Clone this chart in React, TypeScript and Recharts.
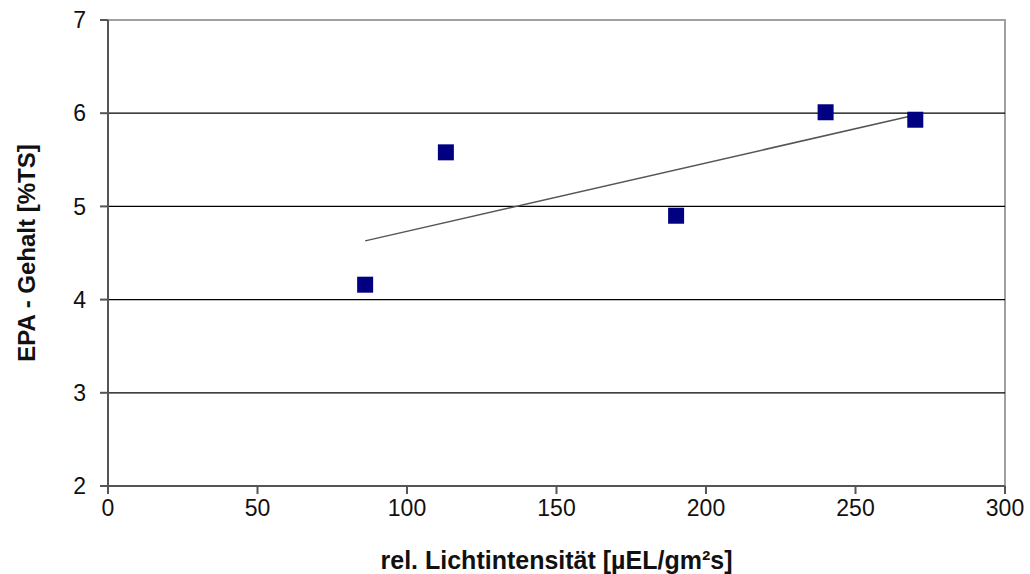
import {
  ScatterChart,
  Scatter,
  XAxis,
  YAxis,
  ReferenceLine,
  ReferenceArea,
} from "recharts";

// Messwerte
const lightValues = [86, 113, 190, 240, 270];
const epaValues = [4.16, 5.58, 4.9, 6.01, 5.93];

// Trendlinie (linear)
const trendX = [86, 270];
const trendY = [4.63, 5.98];

const xTicks = [0, 50, 100, 150, 200, 250, 300];
const yTicks = [2, 3, 4, 5, 6, 7];
const gridValues = [3, 4, 5, 6];

const points = lightValues.map((x, i) => ({ x, y: epaValues[i] }));
const trend = trendX.map((x, i) => ({ x, y: trendY[i] }));

const font = "'Liberation Sans', Arial, sans-serif";

function Square(props: any) {
  const { cx, cy } = props;
  if (cx == null || cy == null) return null;
  return <rect x={cx - 8} y={cy - 8} width={16} height={16} fill="#000080" />;
}

export default function App() {
  return (
    <div style={{ position: "absolute", left: 0, top: 0, fontFamily: font }}>
      <ScatterChart
        width={1030}
        height={574}
        margin={{ top: 20, right: 25, left: 0, bottom: 0 }}
      >
        <ReferenceArea
          x1={0}
          x2={300}
          y1={2}
          y2={7}
          fill="none"
          stroke="#a0a0a0"
          strokeWidth={2}
          ifOverflow="visible"
        />
        {gridValues.map((v) => (
          <ReferenceLine key={v} y={v} stroke="#000" strokeWidth={1.3} />
        ))}
        <XAxis
          type="number"
          dataKey="x"
          domain={[0, 300]}
          ticks={xTicks}
          height={88}
          stroke="#555"
          strokeWidth={2}
          tickSize={8}
          tickMargin={6}
          tick={{ fill: "#111", fontSize: 23, fontFamily: font }}
          label={{
            value: "rel. Lichtintensität [µEL/gm²s]",
            position: "insideBottom",
            offset: 5,
            fill: "#111",
            fontSize: 25,
            fontWeight: "bold",
            fontFamily: font,
          }}
        />
        <YAxis
          type="number"
          dataKey="y"
          domain={[2, 7]}
          ticks={yTicks}
          width={108}
          stroke="#555"
          strokeWidth={2}
          tickSize={8}
          tickMargin={14}
          tick={{ fill: "#111", fontSize: 23, fontFamily: font }}
          label={{
            value: "EPA - Gehalt [%TS]",
            angle: -90,
            position: "insideLeft",
            offset: 26,
            style: { textAnchor: "middle" },
            fill: "#111",
            fontSize: 24,
            fontWeight: "bold",
            fontFamily: font,
          }}
        />
        <Scatter
          data={trend}
          line={{ stroke: "#555", strokeWidth: 1.5 }}
          shape={() => null}
          isAnimationActive={false}
        />
        <Scatter data={points} shape={Square} isAnimationActive={false} />
      </ScatterChart>
    </div>
  );
}
